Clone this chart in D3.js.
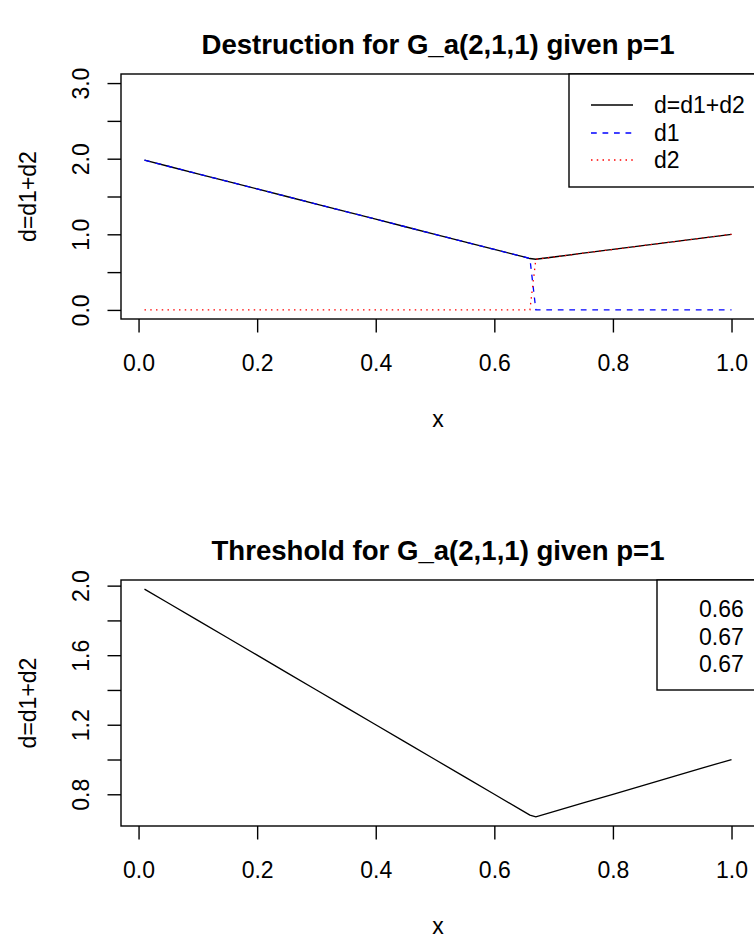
<!DOCTYPE html>
<html>
<head>
<meta charset="utf-8">
<script src="https://cdn.jsdelivr.net/npm/d3@7"></script>
<style>
  body { margin: 0; background: #fff; }
  text { font-family: "Liberation Sans", Arial, sans-serif; fill: #000; }
</style>
</head>
<body>
<div id="chart"></div>
<script>
// values
var xValues  = [0.01, 0.05, 0.10, 0.15, 0.20, 0.25, 0.30, 0.35, 0.40, 0.45, 0.50, 0.55, 0.60, 0.65, 0.66, 0.67, 0.70, 0.75, 0.80, 0.85, 0.90, 0.95, 1.00];
var dValues  = [1.98, 1.90, 1.80, 1.70, 1.60, 1.50, 1.40, 1.30, 1.20, 1.10, 1.00, 0.90, 0.80, 0.70, 0.68, 0.67, 0.70, 0.75, 0.80, 0.85, 0.90, 0.95, 1.00];
var d1Values = [1.98, 1.90, 1.80, 1.70, 1.60, 1.50, 1.40, 1.30, 1.20, 1.10, 1.00, 0.90, 0.80, 0.70, 0.68, 0, 0, 0, 0, 0, 0, 0, 0];
var d2Values = [0, 0, 0, 0, 0, 0, 0, 0, 0, 0, 0, 0, 0, 0, 0, 0.67, 0.70, 0.75, 0.80, 0.85, 0.90, 0.95, 1.00];

var xTicks = [0, 0.2, 0.4, 0.6, 0.8, 1.0];
var topYTicks = [0, 0.5, 1, 1.5, 2, 2.5, 3];
var topYLabels = [0, 1, 2, 3];
var bottomYTicks = [0.8, 1.0, 1.2, 1.4, 1.6, 1.8, 2.0];
var bottomYLabels = [0.8, 1.2, 1.6, 2.0];

var legendNames = ["d=d1+d2", "d1", "d2"];
var thresholdLabels = ["0.66", "0.67", "0.67"];

var svgWidth = 754;
var svgHeight = 939;

var svg = d3.select("#chart")
  .append("svg")
  .attr("width", svgWidth)
  .attr("height", svgHeight);

var boxLeft = 121;
var boxRight = 755;
var tickLen = 13.5;

// R style: extend data range by 4% on each side
function padded(lo, hi) {
  var p = (hi - lo) * 0.04;
  return [lo - p, hi + p];
}

var xDomain = padded(d3.min(xValues), d3.max(xValues));

function drawPanel(top, bottom, yDomain, yTicks, yLabels, title) {
  var g = svg.append("g");

  var xScale = d3.scaleLinear().domain(xDomain).range([boxLeft, boxRight]);
  var yScale = d3.scaleLinear().domain(yDomain).range([bottom, top]);

  var bottomAxis = d3.axisBottom(xScale)
    .tickValues(xTicks)
    .tickSize(tickLen)
    .tickSizeOuter(0)
    .tickFormat(d3.format(".1f"));

  var leftAxis = d3.axisLeft(yScale)
    .tickValues(yTicks)
    .tickSize(tickLen)
    .tickSizeOuter(0)
    .tickFormat(function(d) {
      return yLabels.some(function(v) { return Math.abs(v - d) < 1e-9; }) ? d3.format(".1f")(d) : "";
    });

  var xg = g.append("g")
    .attr("transform", `translate(0, ${bottom})`)
    .call(bottomAxis);
  xg.select(".domain").remove();
  xg.selectAll("line").attr("stroke", "#000").attr("stroke-width", 1.4);
  xg.selectAll("text")
    .attr("y", 52)
    .attr("dy", 0)
    .attr("font-size", "23px")
    .attr("fill", "#000");

  var yg = g.append("g")
    .attr("transform", `translate(${boxLeft}, 0)`)
    .call(leftAxis);
  yg.select(".domain").remove();
  yg.selectAll("line").attr("stroke", "#000").attr("stroke-width", 1.4);
  yg.selectAll("text")
    .attr("x", 0)
    .attr("dy", 0)
    .attr("transform", "translate(-32, 0) rotate(-90)")
    .attr("text-anchor", "middle")
    .attr("font-size", "23px")
    .attr("fill", "#000");

  g.append("rect")
    .attr("x", boxLeft)
    .attr("y", top)
    .attr("width", boxRight - boxLeft)
    .attr("height", bottom - top)
    .attr("fill", "none")
    .attr("stroke", "#000")
    .attr("stroke-width", 1.4);

  g.append("text")
    .attr("x", (boxLeft + boxRight) / 2)
    .attr("y", top - 30)
    .attr("dy", "0.35em")
    .attr("text-anchor", "middle")
    .attr("font-size", "27.6px")
    .attr("font-weight", "bold")
    .text(title);

  g.append("text")
    .attr("x", (boxLeft + boxRight) / 2)
    .attr("y", bottom + 108)
    .attr("text-anchor", "middle")
    .attr("font-size", "23px")
    .text("x");

  g.append("text")
    .attr("transform", `translate(36, ${(top + bottom) / 2}) rotate(-90)`)
    .attr("text-anchor", "middle")
    .attr("font-size", "23px")
    .text("d=d1+d2");

  return {g: g, x: xScale, y: yScale};
}

function addLine(panel, ys, color, dash) {
  var line = d3.line()
    .x(function(d, i) { return panel.x(xValues[i]); })
    .y(function(d) { return panel.y(d); });
  panel.g.append("path")
    .datum(ys)
    .attr("d", line)
    .attr("fill", "none")
    .attr("stroke", color)
    .attr("stroke-width", 1.3)
    .attr("stroke-dasharray", dash);
}

// top panel
var topPanel = drawPanel(74, 319, padded(0, 3), topYTicks, topYLabels, "Destruction for G_a(2,1,1) given p=1");
addLine(topPanel, dValues, "#000", null);
addLine(topPanel, d1Values, "#0000ff", "5.75,5.75");
addLine(topPanel, d2Values, "#ff0000", "1.5,4.25");

var legendColors = ["#000", "#0000ff", "#ff0000"];
var legendDash = [null, "5.75,5.75", "1.5,4.25"];
var legendRows = [105, 133, 160];

topPanel.g.append("rect")
  .attr("x", 569).attr("y", 74)
  .attr("width", boxRight - 569).attr("height", 113)
  .attr("fill", "#fff").attr("stroke", "#000").attr("stroke-width", 1.4);

legendNames.forEach(function(name, i) {
  topPanel.g.append("line")
    .attr("x1", 591).attr("x2", 633)
    .attr("y1", legendRows[i]).attr("y2", legendRows[i])
    .attr("stroke", legendColors[i])
    .attr("stroke-width", 1.3)
    .attr("stroke-dasharray", legendDash[i]);
  topPanel.g.append("text")
    .attr("x", 654).attr("y", legendRows[i])
    .attr("dy", "0.35em")
    .attr("font-size", "23px")
    .text(name);
});

// bottom panel
var bottomPanel = drawPanel(580, 826, padded(d3.min(dValues), d3.max(dValues)), bottomYTicks, bottomYLabels, "Threshold for G_a(2,1,1) given p=1");
addLine(bottomPanel, dValues, "#000", null);

var thresholdRows = [609, 637, 664];
bottomPanel.g.append("rect")
  .attr("x", 657).attr("y", 580)
  .attr("width", boxRight - 657).attr("height", 110)
  .attr("fill", "#fff").attr("stroke", "#000").attr("stroke-width", 1.4);

thresholdLabels.forEach(function(lab, i) {
  bottomPanel.g.append("text")
    .attr("x", 699).attr("y", thresholdRows[i])
    .attr("dy", "0.35em")
    .attr("font-size", "23px")
    .text(lab);
});
</script>
</body>
</html>
